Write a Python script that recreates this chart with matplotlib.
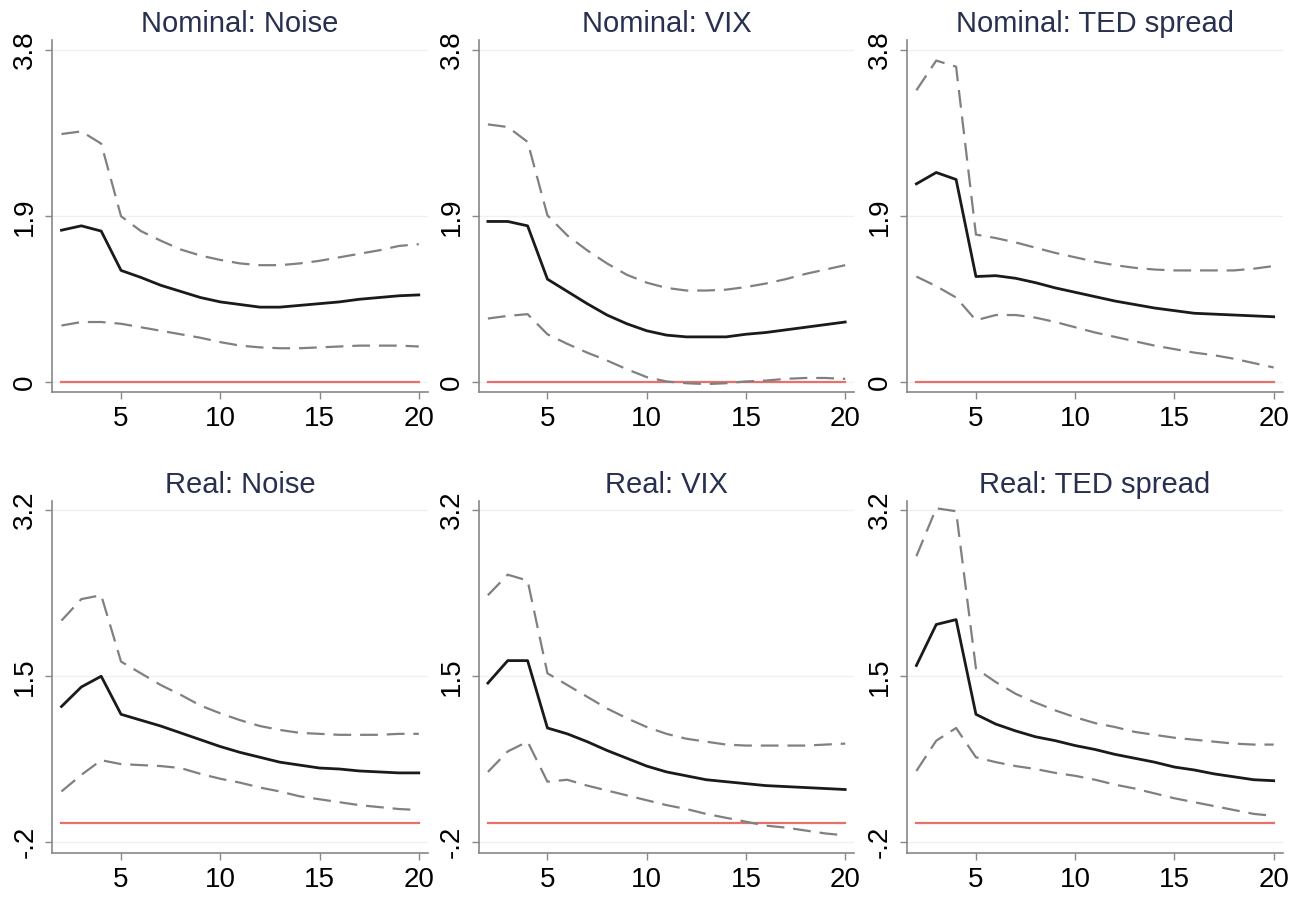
import numpy as np
import matplotlib
matplotlib.use("Agg")
import matplotlib.pyplot as plt

plt.rcParams['font.family'] = ['Liberation Sans', 'DejaVu Sans']

# horizon
h = list(range(2, 21))

titles = ["Nominal: Noise", "Nominal: VIX", "Nominal: TED spread",
          "Real: Noise", "Real: VIX", "Real: TED spread"]

# point estimates
nom_noise = [1.74, 1.79, 1.73, 1.28, 1.20, 1.11, 1.04, 0.97, 0.92, 0.89,
             0.86, 0.86, 0.88, 0.90, 0.92, 0.95, 0.97, 0.99, 1.00]
nom_noise_hi = [2.84, 2.87, 2.73, 1.90, 1.73, 1.62, 1.52, 1.45, 1.40, 1.36,
                1.34, 1.34, 1.36, 1.39, 1.43, 1.47, 1.51, 1.56, 1.58]
nom_noise_lo = [0.65, 0.69, 0.69, 0.67, 0.63, 0.59, 0.55, 0.51, 0.46, 0.42,
                0.40, 0.39, 0.39, 0.40, 0.41, 0.42, 0.42, 0.42, 0.41]

nom_vix = [1.84, 1.84, 1.79, 1.18, 1.04, 0.90, 0.77, 0.67, 0.59, 0.54,
           0.52, 0.52, 0.52, 0.55, 0.57, 0.60, 0.63, 0.66, 0.69]
nom_vix_hi = [2.95, 2.92, 2.75, 1.91, 1.68, 1.51, 1.36, 1.23, 1.14, 1.08,
              1.05, 1.05, 1.06, 1.09, 1.13, 1.18, 1.24, 1.29, 1.34]
nom_vix_lo = [0.73, 0.76, 0.78, 0.55, 0.44, 0.34, 0.25, 0.15, 0.06, 0.01,
              -0.01, -0.02, -0.01, 0.01, 0.02, 0.04, 0.05, 0.05, 0.04]

nom_ted = [2.27, 2.40, 2.32, 1.21, 1.22, 1.19, 1.14, 1.08, 1.03, 0.98,
           0.93, 0.89, 0.85, 0.82, 0.79, 0.78, 0.77, 0.76, 0.75]
nom_ted_hi = [3.34, 3.68, 3.61, 1.69, 1.65, 1.60, 1.54, 1.48, 1.43, 1.38,
              1.34, 1.31, 1.29, 1.28, 1.28, 1.28, 1.28, 1.30, 1.33]
nom_ted_lo = [1.21, 1.10, 0.97, 0.71, 0.77, 0.77, 0.74, 0.69, 0.63, 0.57,
              0.52, 0.47, 0.42, 0.38, 0.34, 0.31, 0.27, 0.22, 0.17]

real_noise = [1.19, 1.39, 1.50, 1.11, 1.05, 0.99, 0.92, 0.85, 0.78, 0.72,
              0.67, 0.62, 0.59, 0.56, 0.55, 0.53, 0.52, 0.51, 0.51]
real_noise_hi = [2.07, 2.29, 2.33, 1.65, 1.53, 1.41, 1.31, 1.20, 1.12, 1.05,
                 0.99, 0.95, 0.92, 0.91, 0.90, 0.90, 0.90, 0.91, 0.91]
real_noise_lo = [0.32, 0.49, 0.64, 0.60, 0.59, 0.58, 0.56, 0.50, 0.45, 0.41,
                 0.36, 0.32, 0.27, 0.24, 0.21, 0.18, 0.16, 0.14, 0.13]

real_vix = [1.43, 1.66, 1.66, 0.97, 0.91, 0.83, 0.74, 0.66, 0.58, 0.52,
            0.48, 0.44, 0.42, 0.40, 0.38, 0.37, 0.36, 0.35, 0.34]
real_vix_hi = [2.33, 2.54, 2.48, 1.53, 1.41, 1.29, 1.17, 1.07, 0.98, 0.91,
               0.86, 0.83, 0.80, 0.79, 0.79, 0.79, 0.79, 0.80, 0.81]
real_vix_lo = [0.52, 0.73, 0.83, 0.42, 0.44, 0.38, 0.33, 0.28, 0.23, 0.18,
               0.14, 0.09, 0.05, 0.01, -0.03, -0.05, -0.08, -0.11, -0.13]

real_ted = [1.61, 2.03, 2.08, 1.11, 1.01, 0.94, 0.88, 0.84, 0.79, 0.75,
            0.70, 0.66, 0.62, 0.57, 0.54, 0.50, 0.47, 0.44, 0.43]
real_ted_hi = [2.73, 3.22, 3.19, 1.58, 1.44, 1.32, 1.23, 1.15, 1.08, 1.02,
               0.98, 0.93, 0.90, 0.87, 0.85, 0.83, 0.81, 0.80, 0.80]
real_ted_lo = [0.53, 0.84, 0.97, 0.67, 0.62, 0.58, 0.55, 0.51, 0.48, 0.44,
               0.39, 0.35, 0.30, 0.25, 0.21, 0.17, 0.13, 0.09, 0.07]

series = [(nom_noise, nom_noise_hi, nom_noise_lo),
          (nom_vix, nom_vix_hi, nom_vix_lo),
          (nom_ted, nom_ted_hi, nom_ted_lo),
          (real_noise, real_noise_hi, real_noise_lo),
          (real_vix, real_vix_hi, real_vix_lo),
          (real_ted, real_ted_hi, real_ted_lo)]

top_ticks = [0, 1.9, 3.8]
top_labels = ["0", "1.9", "3.8"]
bot_ticks = [-0.2, 1.5, 3.2]
bot_labels = ["-.2", "1.5", "3.2"]
x_ticks = [5, 10, 15, 20]

fig = plt.figure(figsize=(13.04, 8.99), dpi=100)

lefts = [0.040, 0.367, 0.6956]
w = 0.288
bottoms = [0.564, 0.0512]
hgt = 0.391

for i, (est, hi, lo) in enumerate(series):
    row, col = divmod(i, 3)
    ax = fig.add_axes([lefts[col], bottoms[row], w, hgt])
    if row == 0:
        ticks, labels, ylim = top_ticks, top_labels, (-0.11, 3.91)
    else:
        ticks, labels, ylim = bot_ticks, bot_labels, (-0.31, 3.29)

    for t in ticks:
        ax.axhline(t, color="#f0f0f0", lw=1.0, zorder=0)

    ax.plot(h, [0] * len(h), color="#e8706a", lw=1.6, zorder=1)
    ax.plot(h, hi, color="#808080", lw=1.6, dashes=(8, 4), zorder=2)
    ax.plot(h, lo, color="#808080", lw=1.6, dashes=(8, 4), zorder=2)
    ax.plot(h, est, color="#1a1a1a", lw=2.0, zorder=3)

    ax.set_xlim(1.53, 20.45)
    ax.set_ylim(*ylim)
    ax.set_xticks(x_ticks)
    ax.set_yticks(ticks)
    ax.set_yticklabels(labels, rotation=90, va="center")
    ax.tick_params(axis="both", labelsize=20, color="#888888", length=5,
                   width=1, direction="out")
    ax.tick_params(axis="y", pad=5)
    ax.tick_params(axis="x", pad=5)
    for s in ["top", "right"]:
        ax.spines[s].set_visible(False)
    for s in ["left", "bottom"]:
        ax.spines[s].set_color("#888888")
        ax.spines[s].set_linewidth(1.2)
    ax.set_title(titles[i], fontsize=21, color="#27304f", pad=6)

plt.savefig("out.png", dpi=100)
